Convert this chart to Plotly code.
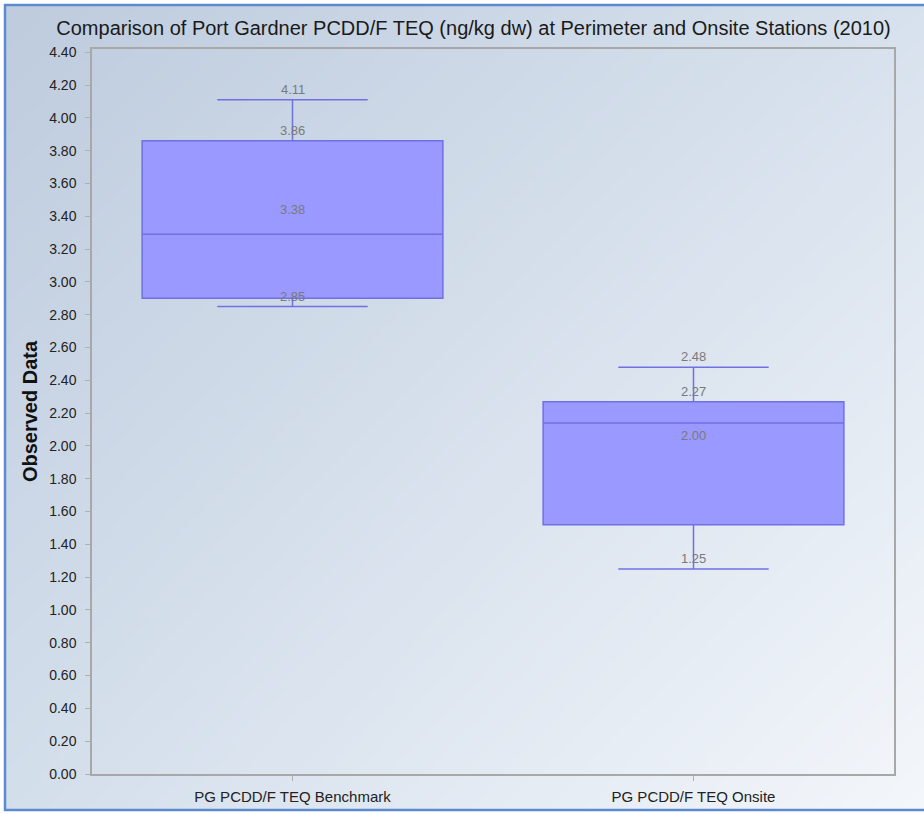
import base64
import struct
import zlib

import numpy as np
import plotly.graph_objects as go

# Box statistics per station group (ng/kg dw)
categories = ["PG PCDD/F TEQ Benchmark", "PG PCDD/F TEQ Onsite"]
minimum = [2.85, 1.25]
q1 = [2.90, 1.52]
median = [3.29, 2.14]
q3 = [3.86, 2.27]
maximum = [4.11, 2.48]
mean = [3.38, 2.00]

TITLE = "Comparison of Port Gardner PCDD/F TEQ (ng/kg dw) at Perimeter and Onsite Stations (2010)"

W, H = 924, 814
L, R, T, B = 92, 30, 49, 40
PW, PH = W - L - R, H - T - B


def px(x):
    return (x - L) / PW


def py(y):
    return (H - B - y) / PH


def gradient_png(w, h, tl, tr, bl, br):
    """Bilinear four-corner gradient encoded as a PNG data URI."""
    u = np.linspace(0, 1, w)[None, :, None]
    v = np.linspace(0, 1, h)[:, None, None]
    tl, tr, bl, br = (np.array(c, dtype=float) for c in (tl, tr, bl, br))
    c = (1 - u) * (1 - v) * tl + u * (1 - v) * tr + (1 - u) * v * bl + u * v * br
    arr = np.clip(c, 0, 255).astype(np.uint8)
    raw = b"".join(b"\x00" + arr[r].tobytes() for r in range(h))

    def chunk(tag, data):
        return (struct.pack(">I", len(data)) + tag + data
                + struct.pack(">I", zlib.crc32(tag + data) & 0xFFFFFFFF))

    png = (b"\x89PNG\r\n\x1a\n"
           + chunk(b"IHDR", struct.pack(">IIBBBBB", w, h, 8, 2, 0, 0, 0))
           + chunk(b"IDAT", zlib.compress(raw, 9))
           + chunk(b"IEND", b""))
    return "data:image/png;base64," + base64.b64encode(png).decode()


bg = gradient_png(240, 210, (190, 204, 222), (216, 226, 238), (212, 223, 236), (244, 247, 251))

fig = go.Figure()
fig.add_trace(go.Box(
    x=categories,
    q1=q1, median=median, q3=q3,
    lowerfence=minimum, upperfence=maximum,
    width=0.75,
    whiskerwidth=0.5,
    fillcolor="rgb(153,153,255)",
    line=dict(color="rgb(112,112,228)", width=1.5),
    boxpoints=False,
    hoverinfo="skip",
    showlegend=False,
))

# Value labels: max, Q3, mean and min of each group
label_sets = [maximum, q3, mean, minimum]
for vals in label_sets:
    for cat, v in zip(categories, vals):
        fig.add_annotation(
            x=cat, y=v, xref="x", yref="y",
            text=f"{v:.2f}", showarrow=False,
            yanchor="bottom", yshift=1,
            font=dict(family="Liberation Sans", size=13, color="#7a7a7a"),
        )

fig.add_layout_image(
    source=bg, xref="paper", yref="paper",
    x=px(5), y=py(5), sizex=px(W + 2) - px(5), sizey=py(5) - py(811),
    xanchor="left", yanchor="top", sizing="stretch", layer="below",
)
fig.add_shape(
    type="rect", xref="paper", yref="paper",
    x0=px(5), x1=px(W + 4), y0=py(810), y1=py(5),
    line=dict(color="#5b8ad0", width=2.5), fillcolor="rgba(0,0,0,0)", layer="above",
)

fig.update_layout(
    width=W, height=H, autosize=False,
    margin=dict(l=L, r=R, t=T, b=B),
    paper_bgcolor="white",
    plot_bgcolor="rgba(0,0,0,0)",
    title=dict(
        text=TITLE, x=(57 + 890) / 2 / W, xref="container", xanchor="center",
        y=1 - 28 / H, yanchor="middle",
        font=dict(family="Liberation Sans", size=20, color="#1a1a1a"),
        automargin=False,
    ),
    font=dict(family="Liberation Sans", color="#222222"),
)
fig.update_xaxes(
    type="category", range=[-0.5, 1.5], automargin=False,
    showline=True, mirror=True, linecolor="#a8a8a8", linewidth=1.5,
    showgrid=False, zeroline=False,
    ticks="outside", ticklen=5, tickcolor="#b0b0b0", ticklabelstandoff=3,
    tickfont=dict(family="Liberation Sans", size=15, color="#222222"),
)
fig.update_yaxes(
    range=[0, 4.42], dtick=0.2, tick0=0, tickformat=".2f", automargin=False,
    showline=True, mirror=True, linecolor="#a8a8a8", linewidth=1.5,
    showgrid=False, zeroline=False,
    ticks="outside", ticklen=5, tickcolor="#b0b0b0", ticklabelstandoff=6,
    tickfont=dict(family="Liberation Sans", size=14, color="#222222"),
    title=dict(text="<b>Observed Data</b>", standoff=6,
               font=dict(family="Liberation Sans", size=20, color="#111111")),
)

fig.write_html("out.html")
